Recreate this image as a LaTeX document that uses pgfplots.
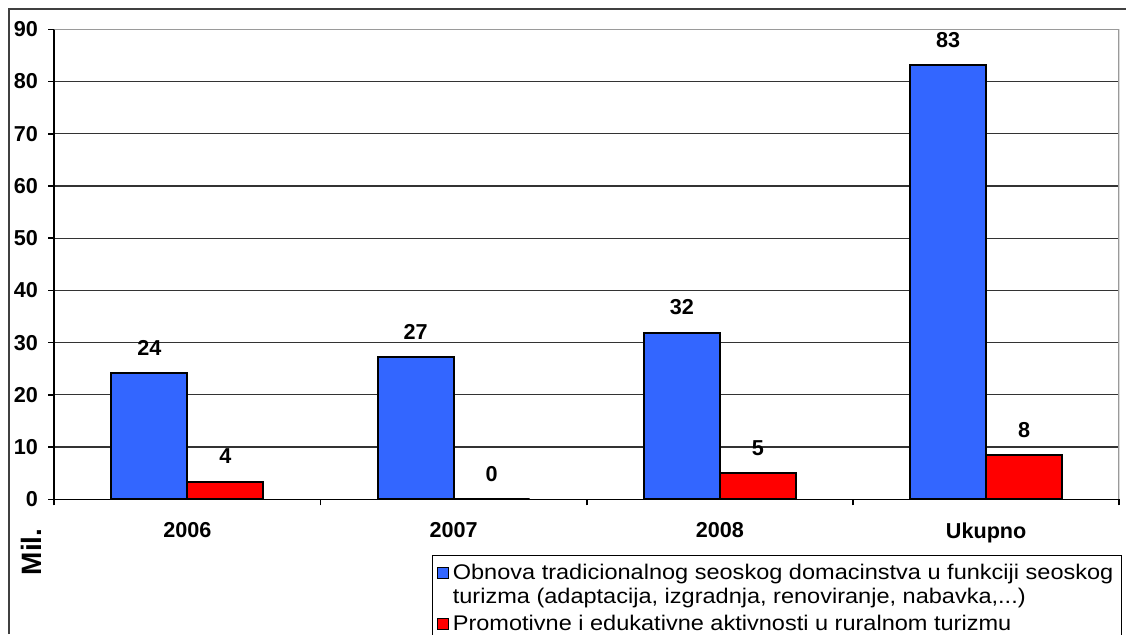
\documentclass[border=0pt]{standalone}
\usepackage{fontspec}
\setmainfont{Liberation Sans}
\newfontfamily\legendfont[FakeStretch=1.11]{Liberation Sans}
\usepackage{pgfplots}
\pgfplotsset{compat=1.18}
\definecolor{barblue}{HTML}{3366FF}
\definecolor{barred}{HTML}{FF0000}
\definecolor{framegray}{HTML}{404040}
\definecolor{bordergray}{HTML}{9A9A9A}
\definecolor{gridgray}{HTML}{333333}

% 1 px of the reference = 0.5pt
\begin{document}
\begin{tikzpicture}
\useasboundingbox (0pt,0pt) rectangle (563pt,317pt);
\draw[framegray, line width=1pt] (4.65pt,0pt) -- (4.65pt,312.35pt) -- (563pt,312.35pt);
\begin{axis}[
  at={(27.15pt,67.35pt)}, anchor=south west,
  scale only axis,
  width=532.5pt, height=235pt,
  ybar=0pt, bar width=38pt,
  xmin=-0.5, xmax=3.5,
  ymin=0, ymax=90,
  ytick={0,10,...,90},
  xtick={-0.5,0.5,1.5,2.5,3.5},
  xticklabels={},
  extra x ticks={0,1,2,3},
  extra x tick labels={2006,2007,2008,Ukupno},
  extra x tick style={major tick length=0pt, grid=none,
    tick label style={yshift=-8pt}},
  axis lines*=left,
  axis line style={-, black, line width=0.8pt},
  tick align=outside,
  major tick length=3pt,
  tick style={black, line width=0.8pt},
  ymajorgrids,
  grid style={gridgray, line width=0.6pt},
  /pgf/number format/assume math mode=true,
  tick label style={font=\bfseries\fontsize{10.8}{12}\selectfont},
  yticklabel style={xshift=-1.7pt},
  ylabel={Mil.},
  ylabel style={at={(axis description cs:-0.0219,-0.112)}, anchor=center,
    font=\bfseries\fontsize{14}{16}\selectfont},
  point meta=explicit symbolic,
  nodes near coords,
  every node near coord/.append style={font=\bfseries\fontsize{10.8}{12}\selectfont, yshift=5pt},
  legend image code/.code={\draw[#1, draw=black, line width=0.6pt] (0pt,-9.3pt) rectangle (5.5pt,-3.8pt);},
  legend style={at={(axis description cs:0.3547,-0.1185)}, anchor=north west,
    draw=black, line width=0.6pt, inner xsep=2pt, inner ysep=2pt,
    font=\legendfont\fontsize{10.6}{12}\selectfont, row sep=0pt,
    cells={anchor=north west, align=left, inner xsep=2pt, inner ysep=1.5pt}},
]
\addplot[fill=barblue, draw=black, line width=1pt]
  coordinates {(0,24.1) [24] (1,27.2) [27] (2,31.9) [32] (3,83.1) [83]};
\addlegendentry{Obnova tradicionalnog seoskog domacinstva u funkciji seoskog\\turizma (adaptacija, izgradnja, renoviranje, nabavka,...)}
\addplot[fill=barred, draw=black, line width=1pt]
  coordinates {(0,3.4) [4] (1,0) [0] (2,5.0) [5] (3,8.4) [8]};
\addlegendentry{Promotivne i edukativne aktivnosti u ruralnom turizmu\\[-2pt]\rule{0pt}{6pt}}
\draw[bordergray, line width=1pt] (rel axis cs:0,1) -- (rel axis cs:1,1) -- (rel axis cs:1,0);
\end{axis}
\end{tikzpicture}
\end{document}
